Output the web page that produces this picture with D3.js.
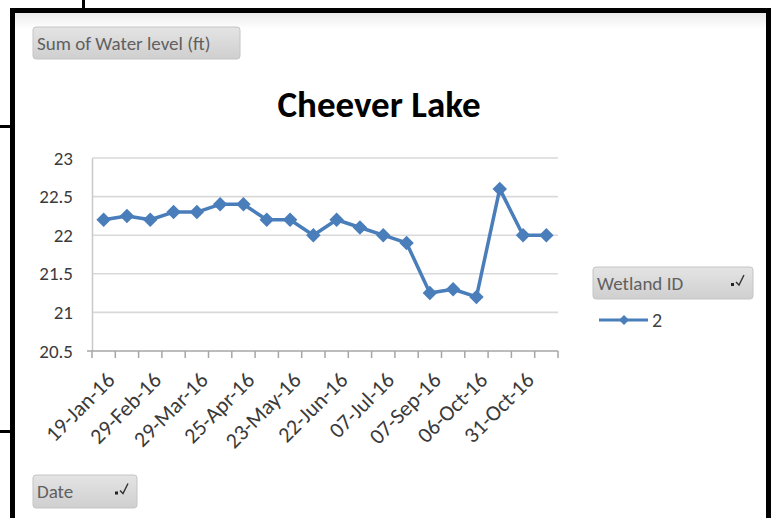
<!DOCTYPE html>
<html><head><meta charset="utf-8">
<script src="https://cdn.jsdelivr.net/npm/d3@7/dist/d3.min.js"></script>
<style>
body{margin:0;background:#fff}
svg{display:block}
text{font-family:Carlito, Calibri, Lato, "Open Sans", sans-serif}
</style>
</head><body>
<svg id="chart" width="774" height="518"></svg>
<script>
// ---- data ----
const dates = ["19-Jan-16","10-Feb-16","29-Feb-16","14-Mar-16","29-Mar-16","11-Apr-16","25-Apr-16","09-May-16","23-May-16","07-Jun-16",
               "22-Jun-16","29-Jun-16","07-Jul-16","10-Aug-16","07-Sep-16","21-Sep-16","06-Oct-16","18-Oct-16","31-Oct-16","14-Nov-16"];
const waterLevel = [22.2,22.25,22.2,22.3,22.3,22.4,22.4,22.2,22.2,22.0,22.2,22.1,22.0,21.9,21.25,21.3,21.2,22.6,22.0,22.0];
const yTicks = [20.5,21,21.5,22,22.5,23];
const xLabelDates = dates.filter((d,i)=>i%2===0);
const chartTitle = "Cheever Lake";
const valueFieldLabel = "Sum of Water level (ft)";
const legendFieldLabel = "Wetland ID";
const seriesNames = ["2"];
const axisFieldLabel = "Date";

// ---- drawing ----
const svg = d3.select("#chart");
const blue = "#4a7ebb";

// spreadsheet cell borders / frame
const frame = svg.append("g").attr("fill","#000");
frame.append("rect").attr("x",10).attr("y",8).attr("width",761).attr("height",5);
frame.append("rect").attr("x",10).attr("y",8).attr("width",5).attr("height",510);
frame.append("rect").attr("x",766).attr("y",8).attr("width",5).attr("height",510);
frame.append("rect").attr("x",82).attr("y",0).attr("width",3).attr("height",8);
frame.append("rect").attr("x",0).attr("y",125).attr("width",10).attr("height",3);
frame.append("rect").attr("x",0).attr("y",430).attr("width",10).attr("height",3);

const defs = svg.append("defs");
const g1 = defs.append("linearGradient").attr("id","btn").attr("x1",0).attr("y1",0).attr("x2",0).attr("y2",1);
g1.append("stop").attr("offset","0%").attr("stop-color","#e4e4e4");
g1.append("stop").attr("offset","100%").attr("stop-color","#cfcfcf");
const g2 = defs.append("linearGradient").attr("id","topshade").attr("x1",0).attr("y1",0).attr("x2",0).attr("y2",1);
g2.append("stop").attr("offset","0%").attr("stop-color","#ececec");
g2.append("stop").attr("offset","100%").attr("stop-color","#ffffff");
svg.append("rect").attr("x",15).attr("y",13).attr("width",751).attr("height",16).attr("fill","url(#topshade)");

const x = d3.scaleBand().domain(dates).range([92,558]).paddingInner(0).paddingOuter(0);
const y = d3.scaleLinear().domain([20.5,23]).range([351,158]);

// gridlines
svg.append("g").selectAll("line").data(yTicks.slice(1)).join("line")
  .attr("x1",92).attr("x2",558).attr("y1",d=>y(d)).attr("y2",d=>y(d))
  .attr("stroke","#d9d9d9").attr("stroke-width",1.6);

// y axis
const yAxis = svg.append("g").attr("transform","translate(92,0)")
  .call(d3.axisLeft(y).tickValues(yTicks).tickSize(0).tickPadding(19).tickFormat(d3.format("")));
yAxis.select(".domain").attr("stroke","#c8c8c8").attr("stroke-width",1.5);
yAxis.selectAll("text").attr("font-size",19).attr("fill","#3a3a3a");

// x axis
const xAxis = svg.append("g").attr("transform","translate(0,351)")
  .call(d3.axisBottom(x).tickValues(xLabelDates).tickSize(0).tickPadding(0));
xAxis.select(".domain").remove();
xAxis.selectAll("text").attr("font-size",22).attr("fill","#3a3a3a")
  .attr("text-anchor","end").attr("dy","0.35em")
  .attr("transform","translate(7,25) rotate(-45)");
// axis line and category tick marks
const bounds = d3.range(dates.length+1).map(i=>x.range()[0]+i*x.step());
svg.append("line").attr("x1",bounds[0]-5).attr("x2",bounds[bounds.length-1]).attr("y1",y(20.5)).attr("y2",y(20.5))
  .attr("stroke","#a6a6a6").attr("stroke-width",1.5);
svg.append("g").selectAll("line").data(bounds).join("line")
  .attr("x1",d=>d).attr("x2",d=>d).attr("y1",y(20.5)).attr("y2",y(20.5)+7)
  .attr("stroke","#a6a6a6").attr("stroke-width",1.5);

// series line
const line = d3.line().x((d,i)=>x(dates[i])+x.bandwidth()/2).y(d=>y(d));
svg.append("path").datum(waterLevel).attr("d",line).attr("fill","none")
  .attr("stroke",blue).attr("stroke-width",3.5).attr("stroke-linejoin","round");
svg.append("g").selectAll("path").data(waterLevel).join("path")
  .attr("transform",(d,i)=>`translate(${x(dates[i])+x.bandwidth()/2},${y(d)}) rotate(45)`)
  .attr("d",d3.symbol().type(d3.symbolSquare).size(105)).attr("fill",blue);

// title
svg.append("text").attr("x",379).attr("y",104).attr("text-anchor","middle").attr("dominant-baseline","central")
  .attr("font-size",37).attr("font-weight","bold").attr("fill","#000").text(chartTitle);

// field buttons
function filterIcon(gx,gy){
  const g = svg.append("g").attr("transform",`translate(${gx},${gy})`);
  g.append("rect").attr("x",0).attr("y",9).attr("width",3).attr("height",3).attr("fill","#222");
  g.append("path").attr("d","M5,8 L8,11 L13,1").attr("fill","none").attr("stroke","#333").attr("stroke-width",1.4);
}
function button(bx,by,bw,bh,label,fs,icon){
  svg.append("rect").attr("x",bx).attr("y",by).attr("width",bw).attr("height",bh).attr("rx",3)
    .attr("fill","url(#btn)").attr("stroke","#c4c4c4").attr("stroke-width",1);
  svg.append("text").attr("x",bx+4).attr("y",by+bh/2).attr("dominant-baseline","central")
    .attr("font-size",fs).attr("fill","#606060").text(label);
  if(icon) filterIcon(bx+bw-22,by+bh/2-9);
}
button(33,27,207,32,valueFieldLabel,19,false);
button(593,267,160,32,legendFieldLabel,19,true);
button(33,475,104,33,axisFieldLabel,19,true);

// legend entry
const lg = svg.append("g").selectAll("g").data(seriesNames).join("g")
  .attr("transform",(d,i)=>`translate(599,${320+i*24})`);
lg.append("line").attr("x1",0).attr("x2",49).attr("stroke",blue).attr("stroke-width",3);
lg.append("path").attr("transform","translate(25,0) rotate(45)").attr("d",d3.symbol().type(d3.symbolSquare).size(50)).attr("fill",blue);
lg.append("text").attr("x",53).attr("dominant-baseline","central").attr("font-size",20).attr("fill","#404040").text(d=>d);
</script>
</body></html>
